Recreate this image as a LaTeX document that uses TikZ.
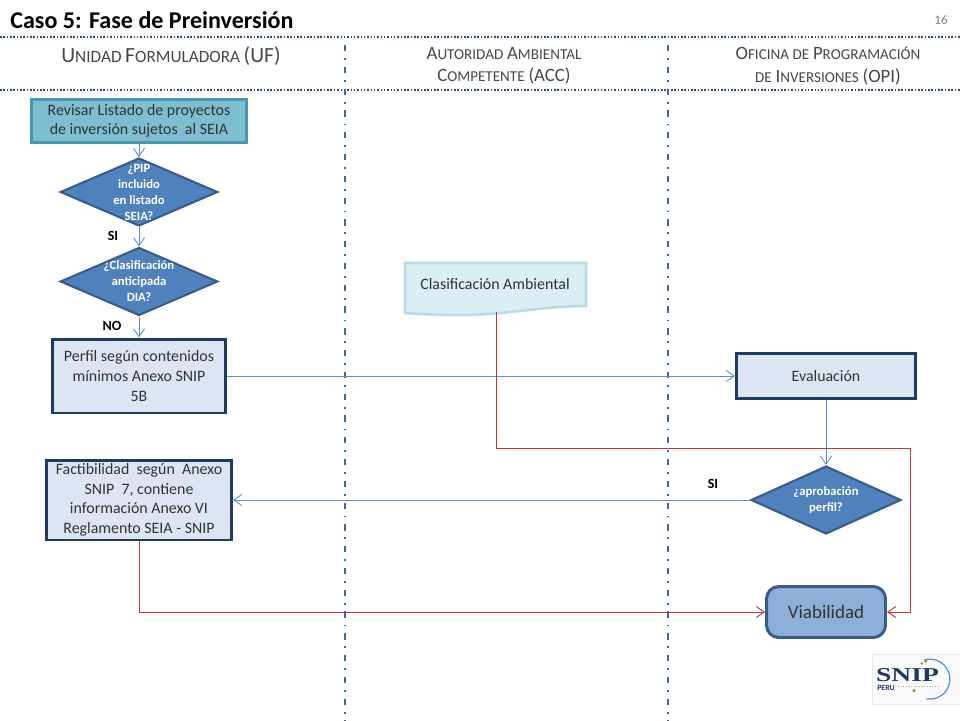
\documentclass[tikz,border=0pt]{standalone}
\usepackage{fontspec}
\setmainfont{Carlito}
\newfontfamily\logofont[FakeStretch=1.4]{Liberation Serif}
\usepackage{xcolor}
\usetikzlibrary{arrows.meta}
\usetikzlibrary{shapes.geometric}
\definecolor{linea}{HTML}{5E8FC8}
\definecolor{rojo}{HTML}{C8363C}
\definecolor{guia}{HTML}{41689B}
\definecolor{punteado}{HTML}{2F4A6B}
\definecolor{bordecaja}{HTML}{1F3A63}
\definecolor{fondocaja}{HTML}{DCE6F2}
\definecolor{bordeinicio}{HTML}{4A97AE}
\definecolor{fondoinicio}{HTML}{7DBFD0}
\definecolor{bordedec}{HTML}{385D8A}
\definecolor{fondodec}{HTML}{4F81BD}
\definecolor{bordedoc}{HTML}{B7DDE8}
\definecolor{fondodoc}{HTML}{DAEEF3}
\definecolor{fondoviable}{HTML}{8EB0D8}
\definecolor{textologo}{HTML}{1F3864}
\newcommand{\cabA}[2]{{\fontsize{12.3}{14}\selectfont #1}{\fontsize{9.8}{14}\selectfont #2}}
\newcommand{\cabB}[2]{{\fontsize{10.7}{14}\selectfont #1}{\fontsize{8.6}{14}\selectfont #2}}
\tikzset{
  >={Straight Barb[length=1.6mm,width=2.2mm]},
  every node/.style = {font = \fontsize{9.05}{11.2}\selectfont, text=black!80, align=center, inner sep=0pt},
  flujo/.style = {->, draw=linea, line width=0.5pt},
  retorno/.style = {->, draw=rojo, line width=0.55pt},
  guiaV/.style = {draw=guia, line width=1.1pt, dash pattern=on 3.6pt off 3.9pt on 1pt off 3.9pt},
  guiaH/.style = {draw=punteado, line width=0.9pt, densely dotted},
  caja/.style = {draw=bordecaja, rectangle, fill=fondocaja, line width=1.7pt},
  inicio/.style = {draw=bordeinicio, rectangle, fill=fondoinicio, line width=1.7pt},
  decision/.style = {diamond, draw=bordedec, fill=fondodec, line width=1.2pt, aspect=2.2, minimum width=3.15cm, minimum height=1.36cm},
  dectexto/.style = {font = \fontsize{7.2}{9.1}\selectfont\bfseries, text=white},
  etiqueta/.style = {font = \fontsize{8}{9}\selectfont\bfseries, text=black},
  cabecera/.style = {text=black!72},
}

\begin{document}
\begin{tikzpicture}[x=0.02cm,y=-0.02cm]
\useasboundingbox (0,0) rectangle (960,720);

% Titulo y cabeceras
\node[anchor=west, font=\fontsize{13.7}{16}\selectfont\bfseries, text=black] (titulo) at (10,20) {Caso 5: Fase de Preinversi\'on};
\node[font=\fontsize{7.4}{9}\selectfont, text=black!50] (pagina) at (941,20) {16};
\draw[guiaH] (0,37) -- (960,37);
\draw[guiaH] (0,90) -- (960,90);
\draw[guiaV] (345,45) -- (345,726);
\draw[guiaV] (668,45) -- (668,726);
\node[cabecera] (uf) at (171,56) {\cabA{U}{NIDAD} \cabA{F}{ORMULADORA} \cabA{(UF)}{}};
\node[cabecera, font=\fontsize{9.6}{12.7}\selectfont] (acc) at (504,66) {\cabB{A}{UTORIDAD} \cabB{A}{MBIENTAL}\\\cabB{C}{OMPETENTE} \cabB{(ACC)}{}};
\node[cabecera, font=\fontsize{9.6}{12.7}\selectfont] (opi) at (828,66) {\cabB{O}{FICINA DE} \cabB{P}{ROGRAMACI\'ON}\\\cabB{}{DE} \cabB{I}{NVERSIONES} \cabB{(OPI)}{}};

% Columna UF
\node[inicio, minimum width=4.3cm, minimum height=0.86cm] (revisar) at (139,121) {Revisar Listado de proyectos\\de inversi\'on sujetos\ \ al SEIA};
\node[decision, label={[dectexto]center:{¿PIP\\incluido\\en listado\\SEIA?}}] (pip) at (139,192) {};
\node[decision, label={[dectexto]center:{¿Clasificaci\'on\\anticipada\\DIA?}}] (dia) at (139,281.5) {};
\node[caja, minimum width=3.45cm, minimum height=1.48cm] (perfil) at (139,376) {Perfil seg\'un contenidos\\m\'inimos Anexo SNIP\\5B};
\node[caja, minimum width=3.7cm, minimum height=1.6cm] (factible) at (139,500) {Factibilidad\ \ seg\'un\ \ Anexo\\SNIP\ \ 7, contiene\\informaci\'on Anexo VI\\Reglamento SEIA - SNIP};

% Documento ACC
\draw[draw=bordedoc, fill=fondodoc, line width=1.5pt]
  (405,263) -- (586,263) -- (586,306) .. controls (540,306) and (500,316) .. (455,315) .. controls (435,315) and (420,314) .. (405,313) -- cycle;
\node (clasif) at (495,284) {Clasificaci\'on Ambiental};
\coordinate (clasifpie) at (496,312);

% Columna OPI
\node[caja, minimum width=3.58cm, minimum height=0.9cm] (evalua) at (826,376) {Evaluaci\'on};
\node[decision, minimum width=3cm, label={[dectexto]center:{¿aprobaci\'on\\perfil?}}] (aprueba) at (826,500) {};
\node[draw=bordedec, rounded corners=7pt, fill=fondoviable, line width=1.7pt, minimum width=2.38cm, minimum height=1.02cm, font=\fontsize{10.8}{12}\selectfont] (viable) at (826,612) {Viabilidad};
\coordinate (esquina) at (910,448);

% Conectores
\draw[flujo] (revisar) -- (pip);
\draw[flujo] (pip) -- (dia);
\draw[flujo] (dia) -- (perfil);
\draw[flujo] (perfil) -- (evalua);
\draw[flujo] (evalua) -- (aprueba);
\draw[flujo] (aprueba) -- (factible);
\draw[retorno] (clasifpie) |- (esquina) |- (viable);
\draw[retorno] (factible) |- (viable);

\node[etiqueta] (si1) at (113,236) {SI};
\node[etiqueta] (no1) at (112,326) {NO};
\node[etiqueta] (si2) at (713,484) {SI};

% Logo
\draw[draw=black!8, fill=black!2] (872,654) rectangle (960,704);
\draw[linea, line width=0.7pt] (924,660) arc (-107:100:20);
\node[font=\logofont\fontsize{11.2}{11.2}\selectfont\bfseries, text=textologo] (snip) at (907.5,675) {SNIP};
\node[font=\fontsize{4.5}{4.5}\selectfont\bfseries, text=textologo] (peru) at (886,688) {PERU};
\draw[black!30, line width=0.5pt, densely dotted] (898,686) -- (938,686);
\fill[yellow!60!green!70!black] (925.7,661) circle (1.8) (921.7,663.5) circle (1.3) (914,690.7) circle (1.8);
\end{tikzpicture}
\end{document}
